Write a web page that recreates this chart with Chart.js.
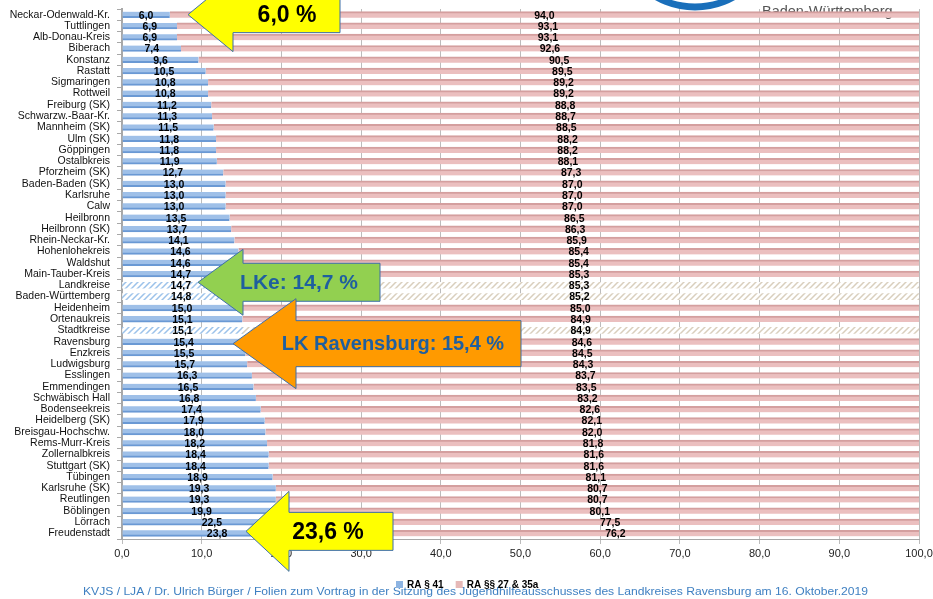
<!DOCTYPE html>
<html lang="de">
<head>
<meta charset="UTF-8">
<title>RA § 41 / RA §§ 27 & 35a nach Kreisen</title>
<script src="https://cdn.jsdelivr.net/npm/chart.js"></script>
<style>
  body { margin: 0; background: #fff; }
  canvas { display: block; }
</style>
</head>
<body>
<canvas id="raChart" width="933" height="599"></canvas>
<script>
// Kreise in Reihenfolge des Anteils RA § 41
const kreise = [
  "Neckar-Odenwald-Kr.", "Tuttlingen", "Alb-Donau-Kreis", "Biberach", "Konstanz",
  "Rastatt", "Sigmaringen", "Rottweil", "Freiburg (SK)", "Schwarzw.-Baar-Kr.",
  "Mannheim (SK)", "Ulm (SK)", "Göppingen", "Ostalbkreis", "Pforzheim (SK)",
  "Baden-Baden (SK)", "Karlsruhe", "Calw", "Heilbronn", "Heilbronn (SK)",
  "Rhein-Neckar-Kr.", "Hohenlohekreis", "Waldshut", "Main-Tauber-Kreis", "Landkreise",
  "Baden-Württemberg", "Heidenheim", "Ortenaukreis", "Stadtkreise", "Ravensburg",
  "Enzkreis", "Ludwigsburg", "Esslingen", "Emmendingen", "Schwäbisch Hall",
  "Bodenseekreis", "Heidelberg (SK)", "Breisgau-Hochschw.", "Rems-Murr-Kreis", "Zollernalbkreis",
  "Stuttgart (SK)", "Tübingen", "Karlsruhe (SK)", "Reutlingen", "Böblingen",
  "Lörrach", "Freudenstadt"
];

const ra41 = [
  6.0, 6.9, 6.9, 7.4, 9.6,
  10.5, 10.8, 10.8, 11.2, 11.3,
  11.5, 11.8, 11.8, 11.9, 12.7,
  13.0, 13.0, 13.0, 13.5, 13.7,
  14.1, 14.6, 14.6, 14.7, 14.7,
  14.8, 15.0, 15.1, 15.1, 15.4,
  15.5, 15.7, 16.3, 16.5, 16.8,
  17.4, 17.9, 18.0, 18.2, 18.4,
  18.4, 18.9, 19.3, 19.3, 19.9,
  22.5, 23.8
];

const ra2735 = [
  94.0, 93.1, 93.1, 92.6, 90.5,
  89.5, 89.2, 89.2, 88.8, 88.7,
  88.5, 88.2, 88.2, 88.1, 87.3,
  87.0, 87.0, 87.0, 86.5, 86.3,
  85.9, 85.4, 85.4, 85.3, 85.3,
  85.2, 85.0, 84.9, 84.9, 84.6,
  84.5, 84.3, 83.7, 83.5, 83.2,
  82.6, 82.1, 82.0, 81.8, 81.6,
  81.6, 81.1, 80.7, 80.7, 80.1,
  77.5, 76.2
];

// Summenzeilen werden schraffiert
const summenZeilen = ["Landkreise", "Baden-Württemberg", "Stadtkreise"];

// Hinweispfeile: Zeile, Text, Farben
const hinweise = [
  { zeile: "Neckar-Odenwald-Kr.", text: "6,0 %", fill: "#ffff00", color: "#000", size: 23,
    dy: 0, tipX: 188, headX: 233, headHalf: 37, bodyRight: 340, bodyHalf: 18, textX: 287 },
  { zeile: "Landkreise", text: "LKe: 14,7 %", fill: "#92d050", color: "#1f5f9f", size: 21,
    dy: -3, tipX: 198, headX: 243, headHalf: 33, bodyRight: 380, bodyHalf: 19, textX: 299 },
  { zeile: "Ravensburg", text: "LK Ravensburg: 15,4 %", fill: "#ff9a00", color: "#1f5f9f", size: 20,
    dy: 2, tipX: 233, headX: 296, headHalf: 45, bodyRight: 521, bodyHalf: 23, textX: 393 },
  { zeile: "Freudenstadt", text: "23,6 %", fill: "#ffff00", color: "#000", size: 23,
    dy: -2, tipX: 246, headX: 289, headHalf: 40, bodyRight: 393, bodyHalf: 19, textX: 328 }
];

const fussText = "KVJS / LJA / Dr. Ulrich Bürger / Folien zum Vortrag in der Sitzung des Jugendhilfeausschusses des Landkreises Ravensburg am 16. Oktober.2019";

const FONT = '"Liberation Sans", Arial, sans-serif';
Chart.defaults.font.family = FONT;

const fmt = v => v.toFixed(1).replace('.', ',');

function schraffur(bg, line) {
  const c = document.createElement('canvas');
  c.width = 6; c.height = 6;
  const g = c.getContext('2d');
  g.fillStyle = bg;
  g.fillRect(0, 0, 6, 6);
  g.strokeStyle = line;
  g.lineWidth = 1.5;
  g.beginPath();
  g.moveTo(-1, 7); g.lineTo(7, -1);
  g.moveTo(-1, 1); g.lineTo(1, -1);
  g.moveTo(5, 7); g.lineTo(7, 5);
  g.stroke();
  return g.createPattern(c, 'repeat');
}

const ctx0 = document.getElementById('raChart').getContext('2d');
const blauSchraffur = schraffur('#ffffff', '#9cc2ea');
const rosaSchraffur = schraffur('#ffffff', '#d9cfbd');

const istSumme = i => summenZeilen.includes(kreise[i]);

// Logo oben rechts, liegt unter den Balken
const logo = {
  id: 'logo',
  beforeDraw(chart) {
    const ctx = chart.ctx;
    ctx.save();
    ctx.beginPath();
    ctx.arc(695, -71, 78, 0, Math.PI * 2);
    ctx.lineWidth = 7;
    ctx.strokeStyle = '#1a6fba';
    ctx.stroke();
    ctx.font = '14.5px ' + FONT;
    ctx.fillStyle = '#555';
    ctx.textBaseline = 'alphabetic';
    ctx.fillText('Baden-Württemberg', 762, 16);
    ctx.restore();
  }
};

// Werte mittig in die Balken
const wertLabels = {
  id: 'wertLabels',
  afterDatasetsDraw(chart) {
    const ctx = chart.ctx;
    ctx.save();
    ctx.font = 'bold 10.5px ' + FONT;
    ctx.fillStyle = '#000';
    ctx.textAlign = 'center';
    ctx.textBaseline = 'middle';
    chart.data.datasets.forEach((ds, i) => {
      chart.getDatasetMeta(i).data.forEach((bar, j) => {
        ctx.fillText(fmt(ds.data[j]), (bar.x + bar.base) / 2, bar.y + 1);
      });
    });
    ctx.restore();
  }
};

// Pfeile, Legende und Fußzeile
const extras = {
  id: 'extras',
  afterDraw(chart) {
    const ctx = chart.ctx;
    const y = chart.scales.y;
    ctx.save();

    hinweise.forEach(h => {
      const cy = y.getPixelForValue(kreise.indexOf(h.zeile)) + h.dy;
      ctx.beginPath();
      ctx.moveTo(h.tipX, cy);
      ctx.lineTo(h.headX, cy - h.headHalf);
      ctx.lineTo(h.headX, cy - h.bodyHalf);
      ctx.lineTo(h.bodyRight, cy - h.bodyHalf);
      ctx.lineTo(h.bodyRight, cy + h.bodyHalf);
      ctx.lineTo(h.headX, cy + h.bodyHalf);
      ctx.lineTo(h.headX, cy + h.headHalf);
      ctx.closePath();
      ctx.fillStyle = h.fill;
      ctx.fill();
      ctx.lineWidth = 1;
      ctx.strokeStyle = '#3d6fa8';
      ctx.stroke();
      ctx.font = 'bold ' + h.size + 'px ' + FONT;
      ctx.fillStyle = h.color;
      ctx.textAlign = 'center';
      ctx.textBaseline = 'middle';
      ctx.fillText(h.text, h.textX, cy + 1);
    });

    // Fußzeile
    ctx.font = '11px ' + FONT;
    ctx.fillStyle = '#3f80c2';
    ctx.textAlign = 'left';
    ctx.textBaseline = 'middle';
    const w = ctx.measureText(fussText).width;
    ctx.save();
    ctx.translate(83, 592);
    ctx.scale(785 / w, 1);
    ctx.fillText(fussText, 0, 0);
    ctx.restore();

    // Legende
    const eintraege = chart.data.datasets.map(d => ({ text: d.label, color: d.legendColor }));
    let x = 396;
    ctx.font = 'bold 10px ' + FONT;
    eintraege.forEach(e => {
      ctx.fillStyle = e.color;
      ctx.fillRect(x, 581, 7, 7);
      ctx.fillStyle = '#000';
      ctx.fillText(e.text, x + 11, 585);
      x += 11 + ctx.measureText(e.text).width + 12;
    });

    ctx.restore();
  }
};

new Chart(ctx0, {
  type: 'bar',
  data: {
    labels: kreise,
    datasets: [
      {
        label: 'RA § 41',
        data: ra41,
        legendColor: '#8db4e2',
        backgroundColor: c => istSumme(c.dataIndex) ? blauSchraffur : '#9fc0e8',
        borderColor: '#6a99d4',
        borderWidth: c => istSumme(c.dataIndex) ? 0 : { top: 0, right: 0, left: 0, bottom: 2 },
        borderSkipped: false,
        barThickness: 6
      },
      {
        label: 'RA §§ 27 & 35a',
        data: ra2735,
        legendColor: '#e6b9b8',
        backgroundColor: c => istSumme(c.dataIndex) ? rosaSchraffur : '#ebbfbf',
        borderColor: '#d49f9f',
        borderWidth: c => istSumme(c.dataIndex) ? 0 : { top: 2, right: 0, left: 0, bottom: 0 },
        borderSkipped: false,
        barThickness: 6
      }
    ]
  },
  options: {
    indexAxis: 'y',
    responsive: false,
    animation: false,
    devicePixelRatio: 1,
    layout: { padding: { top: 9, right: 14, bottom: 38, left: 0 } },
    plugins: {
      legend: { display: false },
      tooltip: { enabled: false }
    },
    scales: {
      x: {
        stacked: true,
        min: 0,
        max: 100,
        ticks: {
          stepSize: 10,
          callback: v => fmt(v),
          font: { size: 11 },
          color: '#222',
          padding: 3
        },
        grid: { color: '#bcbcbc', tickLength: 5 },
        border: { color: '#a8a8a8', width: 1 },
        afterFit: s => { s.height = 22; s.paddingLeft = 0; s.paddingRight = 0; }
      },
      y: {
        stacked: true,
        ticks: { autoSkip: false, font: { size: 10.5 }, color: '#111', padding: 7 },
        grid: { drawOnChartArea: false, tickLength: 5, color: '#a8a8a8', offset: true },
        border: { color: '#a8a8a8', width: 2 },
        afterFit: s => { s.width = 122; s.paddingTop = 0; s.paddingBottom = 0; }
      }
    }
  },
  plugins: [logo, wertLabels, extras]
});
</script>
</body>
</html>
